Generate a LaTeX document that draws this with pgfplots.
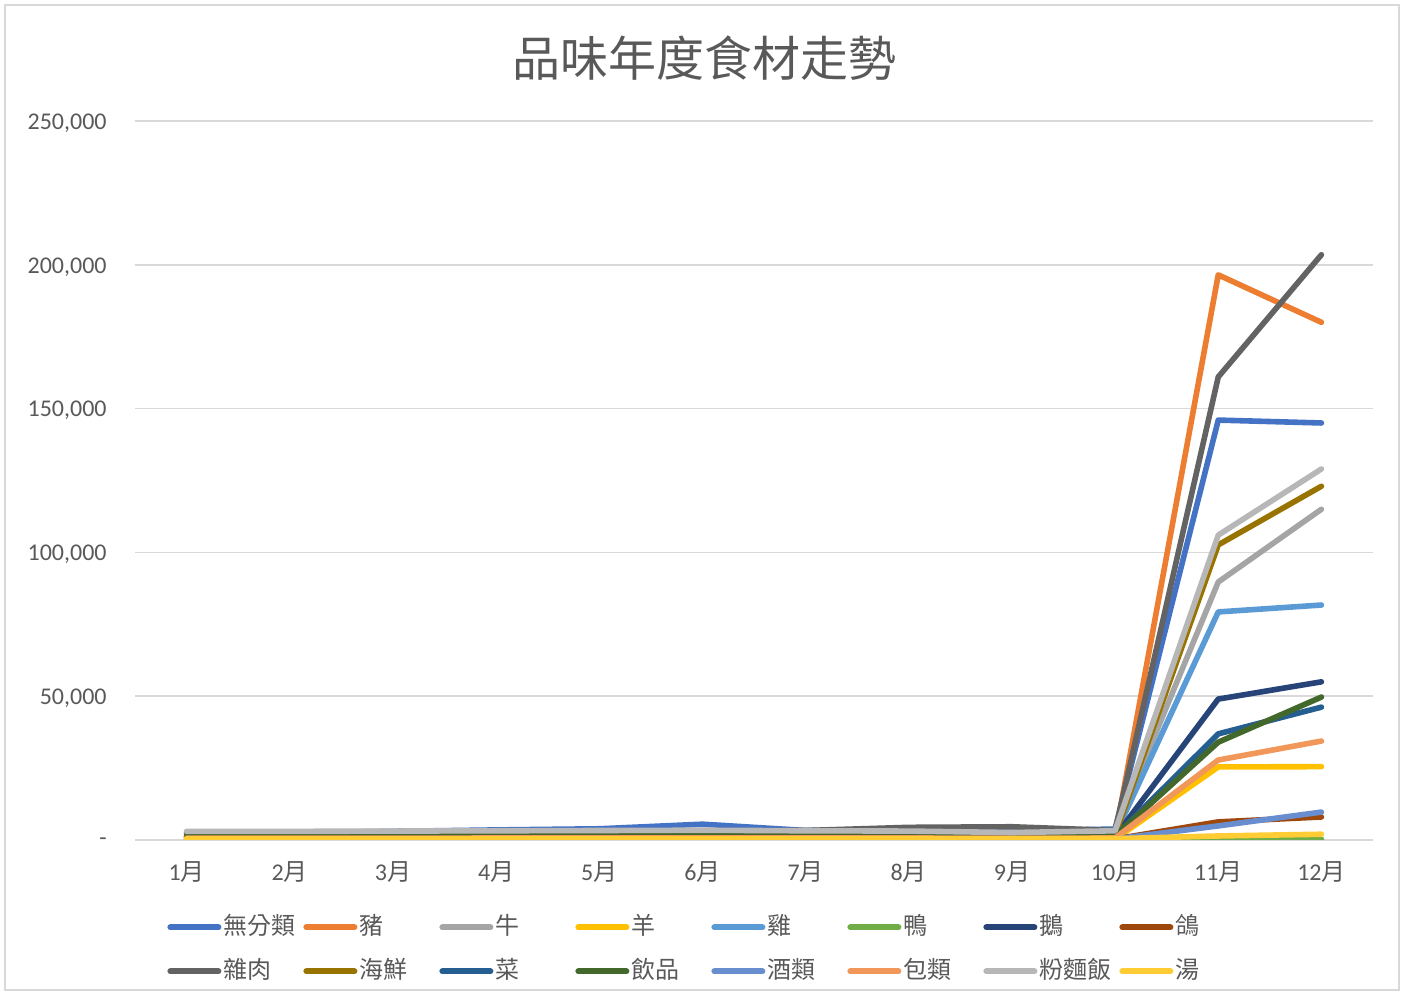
\documentclass[border=0pt]{standalone}
\usepackage{pgfplots}
\pgfplotsset{compat=1.18}
\usepackage{fontspec}
\setmainfont{Carlito}
\newfontfamily\cjk{Noto Sans CJK TC}
\definecolor{txt}{HTML}{595959}
\definecolor{grd}{HTML}{D9D9D9}
\definecolor{s1}{HTML}{4472C4}
\definecolor{s2}{HTML}{ED7D31}
\definecolor{s3}{HTML}{A5A5A5}
\definecolor{s4}{HTML}{FFC000}
\definecolor{s5}{HTML}{5B9BD5}
\definecolor{s6}{HTML}{70AD47}
\definecolor{s7}{HTML}{264478}
\definecolor{s8}{HTML}{9E480E}
\definecolor{s9}{HTML}{636363}
\definecolor{s10}{HTML}{997300}
\definecolor{s11}{HTML}{255E91}
\definecolor{s12}{HTML}{43682B}
\definecolor{s13}{HTML}{698ED0}
\definecolor{s14}{HTML}{F1975A}
\definecolor{s15}{HTML}{B7B7B7}
\definecolor{s16}{HTML}{FFCD33}
\begin{document}
\begin{tikzpicture}
\useasboundingbox (0,0) rectangle (702pt,497.5pt);
\draw[grd, line width=0.75pt] (2.5pt,2.5pt) rectangle (699.5pt,495pt);
\node[font=\cjk\fontsize{24}{24}\selectfont, text=txt] at (352pt,468.5pt) {品味年度食材走勢};
\begin{axis}[
  at={(67.5pt,77.5pt)}, anchor=south west,
  width=619pt, height=359.5pt, scale only axis,
  xmin=0.5, xmax=12.5, ymin=0, ymax=250000,
  axis line style={draw=none},
  tick style={draw=none},
  ymajorgrids, grid style={grd, line width=0.75pt},
  xtick={1,...,12},
  xticklabels={{1\cjk 月},{2\cjk 月},{3\cjk 月},{4\cjk 月},{5\cjk 月},{6\cjk 月},{7\cjk 月},{8\cjk 月},{9\cjk 月},{10\cjk 月},{11\cjk 月},{12\cjk 月}},
  ytick={0,50000,100000,150000,200000,250000},
  yticklabels={{-\hspace{5pt}},{50,000},{100,000},{150,000},{200,000},{250,000}},
  scaled y ticks=false,
  ticklabel style={font=\fontsize{12}{12}\selectfont, text=txt},
  yticklabel style={inner sep=0pt, xshift=-14pt, yshift=-1pt},
  xticklabel style={inner sep=0pt, yshift=-10.5pt},
  every axis plot/.append style={line width=2.8pt, line join=round, line cap=round, mark=none},
  legend columns=8,
  legend cell align=left,
  legend image code/.code={\draw[line width=3pt, line cap=round] (1.5pt,0pt) -- (25.5pt,0pt);},
  legend style={draw=none, fill=none, at={(0.021,-0.1)}, anchor=north west,
    font=\cjk\fontsize{12}{12}\selectfont, text=txt, row sep=11pt,
    nodes={inner xsep=1pt, inner ysep=0pt, text height=9pt, text depth=2pt},
    /tikz/every even column/.append style={column sep=0pt}},
]
\addplot[s1] coordinates {(1,2400)(2,2500)(3,3000)(4,3500)(5,3900)(6,5500)(7,3300)(8,3300)(9,3200)(10,3800)(11,146000)(12,145000)};
\addlegendentry{\makebox[39pt][l]{無分類}}
\addplot[s2] coordinates {(1,900)(2,800)(3,900)(4,1000)(5,1000)(6,1100)(7,1000)(8,1000)(9,900)(10,1200)(11,196500)(12,180000)};
\addlegendentry{\makebox[39pt][l]{豬}}
\addplot[s3] coordinates {(1,2700)(2,2700)(3,2900)(4,3000)(5,3000)(6,3100)(7,3000)(8,2900)(9,2400)(10,3000)(11,89700)(12,115000)};
\addlegendentry{\makebox[39pt][l]{牛}}
\addplot[s4] coordinates {(1,300)(2,300)(3,300)(4,300)(5,300)(6,300)(7,300)(8,300)(9,300)(10,300)(11,25400)(12,25500)};
\addlegendentry{\makebox[39pt][l]{羊}}
\addplot[s5] coordinates {(1,1500)(2,1500)(3,1600)(4,1700)(5,1700)(6,1800)(7,1700)(8,1700)(9,1500)(10,1800)(11,79300)(12,81700)};
\addlegendentry{\makebox[39pt][l]{雞}}
\addplot[s6] coordinates {(1,50)(2,50)(3,50)(4,50)(5,50)(6,50)(7,50)(8,50)(9,50)(10,60)(11,150)(12,250)};
\addlegendentry{\makebox[39pt][l]{鴨}}
\addplot[s7] coordinates {(1,1000)(2,1000)(3,1100)(4,1100)(5,1100)(6,1200)(7,1100)(8,1100)(9,1000)(10,1200)(11,49000)(12,55000)};
\addlegendentry{\makebox[39pt][l]{鵝}}
\addplot[s8] coordinates {(1,300)(2,300)(3,300)(4,300)(5,300)(6,300)(7,300)(8,300)(9,300)(10,350)(11,6300)(12,8000)};
\addlegendentry{\makebox[39pt][l]{鴿}}
\addplot[s9] coordinates {(1,2300)(2,2300)(3,2600)(4,2800)(5,2900)(6,3200)(7,3300)(8,4400)(9,4600)(10,3300)(11,161000)(12,203500)};
\addlegendentry{\makebox[39pt][l]{雜肉}}
\addplot[s10] coordinates {(1,1400)(2,1400)(3,1500)(4,1600)(5,1600)(6,1700)(7,1600)(8,1600)(9,1400)(10,1700)(11,102600)(12,123000)};
\addlegendentry{\makebox[39pt][l]{海鮮}}
\addplot[s11] coordinates {(1,1100)(2,1100)(3,1200)(4,1200)(5,1200)(6,1300)(7,1200)(8,1200)(9,1100)(10,1300)(11,36900)(12,46200)};
\addlegendentry{\makebox[39pt][l]{菜}}
\addplot[s12] coordinates {(1,1200)(2,1200)(3,1300)(4,1300)(5,1300)(6,1400)(7,1300)(8,1300)(9,1200)(10,1400)(11,34000)(12,49700)};
\addlegendentry{\makebox[39pt][l]{飲品}}
\addplot[s13] coordinates {(1,300)(2,300)(3,300)(4,300)(5,300)(6,300)(7,300)(8,300)(9,300)(10,350)(11,4900)(12,9700)};
\addlegendentry{\makebox[39pt][l]{酒類}}
\addplot[s14] coordinates {(1,600)(2,600)(3,600)(4,700)(5,700)(6,700)(7,700)(8,700)(9,600)(10,700)(11,27800)(12,34400)};
\addlegendentry{\makebox[39pt][l]{包類}}
\addplot[s15] coordinates {(1,3000)(2,3000)(3,3100)(4,3200)(5,3300)(6,3400)(7,3200)(8,3100)(9,2600)(10,3200)(11,106000)(12,129000)};
\addlegendentry{\makebox[39pt][l]{粉麵飯}}
\addplot[s16] coordinates {(1,400)(2,400)(3,400)(4,400)(5,400)(6,400)(7,400)(8,400)(9,400)(10,450)(11,1400)(12,2000)};
\addlegendentry{\makebox[39pt][l]{湯}}
\end{axis}
\end{tikzpicture}
\end{document}
